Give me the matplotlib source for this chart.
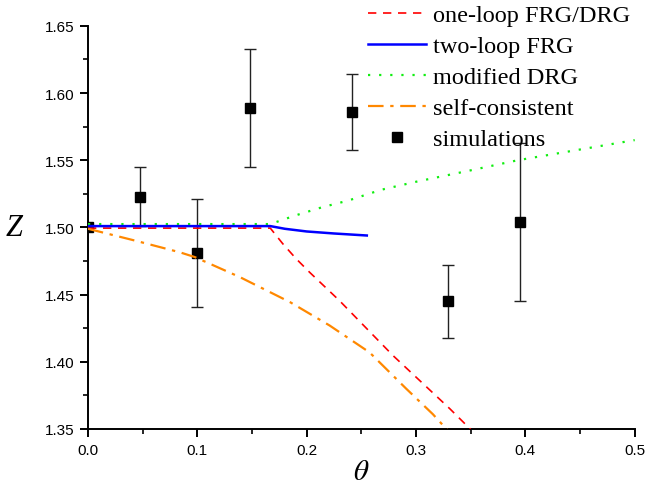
import numpy as np
import matplotlib.pyplot as plt
from matplotlib.lines import Line2D

plt.rcParams['mathtext.fontset'] = 'stix'

# one-loop FRG/DRG
one_loop_x = [0.0, 0.1667, 0.178, 0.19, 0.2027, 0.23, 0.279, 0.331, 0.352]
one_loop_z = [1.4995, 1.4995, 1.488, 1.477, 1.4666, 1.4455, 1.4046, 1.365, 1.348]

# two-loop FRG
two_loop_x = [0.0, 0.1667, 0.18, 0.2, 0.225, 0.255]
two_loop_z = [1.501, 1.501, 1.499, 1.497, 1.4955, 1.494]

# modified DRG
mod_x = [0.0, 0.1667, 0.19, 0.214, 0.238, 0.268, 0.30, 0.35, 0.393, 0.45, 0.5]
mod_z = [1.5025, 1.5025, 1.509, 1.515, 1.520, 1.528, 1.534, 1.5425, 1.550, 1.558, 1.565]

# self-consistent
sc_x = [0.0, 0.044, 0.084, 0.0975, 0.139, 0.185, 0.221, 0.2575, 0.291, 0.3154, 0.3306, 0.334]
sc_z = [1.499, 1.490, 1.4815, 1.478, 1.463, 1.4443, 1.427, 1.407, 1.380, 1.361, 1.3475, 1.344]

# simulations
sim_x = [0.0479, 0.0996, 0.1484, 0.2417, 0.3297, 0.3955]
sim_z = [1.523, 1.481, 1.589, 1.586, 1.445, 1.504]
sim_err = [0.022, 0.040, 0.044, 0.028, 0.0274, 0.059]

fig = plt.figure(figsize=(6.47, 4.89), dpi=100)
ax = fig.add_axes([0.136, 0.1207, 0.845, 0.8243])

# point at the origin, mostly covered by the curves
ax.plot([0.0], [1.5], 's', color='black', ms=6.5, zorder=1)
ax.errorbar(sim_x, sim_z, yerr=sim_err, fmt='s', color='black', ms=6.5,
            ecolor='#222222', elinewidth=1.0, capsize=4.5, capthick=1.0, zorder=2)

ax.plot(one_loop_x, one_loop_z, color='#ff0000', ls=(0, (5, 4)), lw=1.2, zorder=3,
        label='one-loop FRG/DRG')
ax.plot(two_loop_x, two_loop_z, color='#0000ff', ls='-', lw=1.8, zorder=4,
        label='two-loop FRG')
ax.plot(mod_x, mod_z, color='#11ee11', ls=(0, (1, 4)), lw=1.6, zorder=3,
        label='modified DRG')
ax.plot(sc_x, sc_z, color='#ff8800', ls=(0, (7, 3, 1.5, 3)), lw=1.6, zorder=3,
        label='self-consistent')

ax.set_xlim(0, 0.5)
ax.set_ylim(1.35, 1.65)
ax.set_xticks(np.arange(0, 0.51, 0.1))
ax.set_xticks(np.arange(0.05, 0.5, 0.1), minor=True)
ax.set_yticks(np.arange(1.35, 1.651, 0.05))
ax.set_yticks(np.arange(1.375, 1.65, 0.05), minor=True)
ax.set_xticklabels(['0.0', '0.1', '0.2', '0.3', '0.4', '0.5'])
ax.set_yticklabels(['1.35', '1.40', '1.45', '1.50', '1.55', '1.60', '1.65'])

for s in ['top', 'right']:
    ax.spines[s].set_visible(False)
for s in ['left', 'bottom']:
    ax.spines[s].set_linewidth(1.4)
ax.tick_params(which='major', direction='out', length=6, width=1.4,
               labelsize=11, pad=4)
ax.tick_params(which='minor', direction='out', length=3.5, width=1.2)
for lab in ax.get_xticklabels() + ax.get_yticklabels():
    lab.set_family('Liberation Sans')

ax.set_xlabel(r'$\theta$', fontsize=21, labelpad=0)
ax.set_ylabel('Z', fontsize=22, family='Liberation Serif', style='italic',
              rotation=0, labelpad=22, va='center')

handles, labels = ax.get_legend_handles_labels()
handles.append(Line2D([], [], marker='s', ls='none', color='black', ms=6.5))
labels.append('simulations')
ax.legend(handles, labels, loc='upper right', bbox_to_anchor=(1.01, 1.078),
          frameon=False, prop={'family': 'Liberation Serif', 'size': 17.5},
          handlelength=2.4, handletextpad=0.3, labelspacing=0.37,
          borderaxespad=0)

fig.savefig('out.png', dpi=100)
